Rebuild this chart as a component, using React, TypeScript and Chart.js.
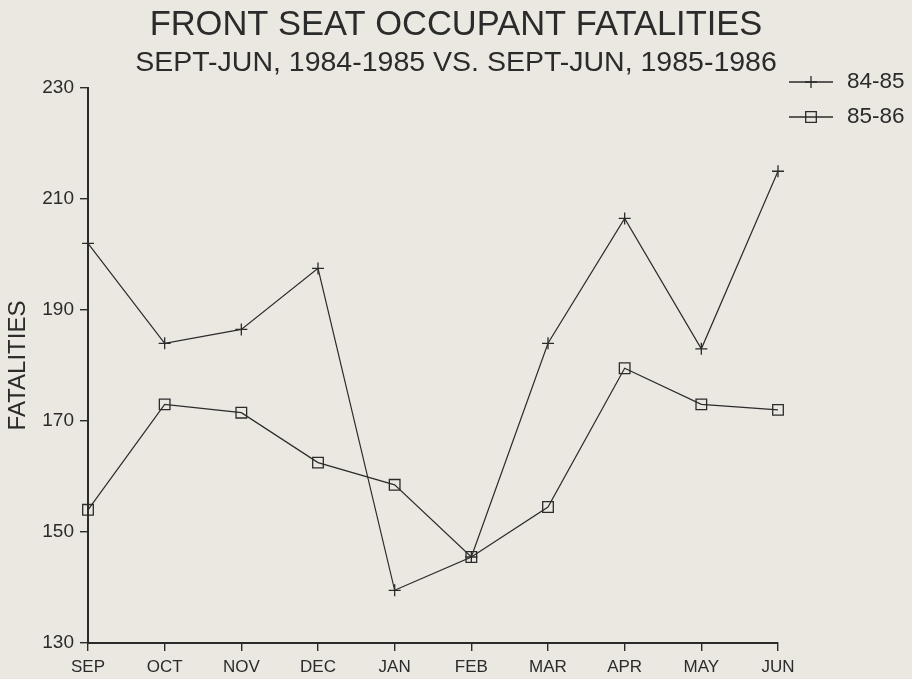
import { useEffect, useRef } from "react";
import { Chart, registerables } from "chart.js";

Chart.register(...registerables);

const months = ["SEP", "OCT", "NOV", "DEC", "JAN", "FEB", "MAR", "APR", "MAY", "JUN"];
const fatal8485 = [202, 184, 186.5, 197.5, 139.5, 145.5, 184, 206.5, 183, 215];
const fatal8586 = [154, 173, 171.5, 162.5, 158.5, 145.5, 154.5, 179.5, 173, 172];
const yTicks = [130, 150, 170, 190, 210, 230];
const seriesLabels = ["84-85", "85-86"];
const titleText = "FRONT SEAT OCCUPANT FATALITIES";
const subtitleText = "SEPT-JUN, 1984-1985 VS. SEPT-JUN, 1985-1986";
const yAxisTitle = "FATALITIES";

const INK = "#2b2b2b";
const PAPER = "#eae8e0";
const FAMILY = '"Liberation Sans", Arial, sans-serif';

const paperPlugin = {
  id: "paper",
  beforeDraw(chart: any) {
    const { ctx, width, height } = chart;
    ctx.save();
    ctx.fillStyle = PAPER;
    ctx.fillRect(0, 0, width, height);
    ctx.restore();
  },
};

function drawMarker(ctx: CanvasRenderingContext2D, style: string, r: number, x: number, y: number) {
  ctx.beginPath();
  if (style === "cross") {
    ctx.moveTo(x - r, y);
    ctx.lineTo(x + r, y);
    ctx.moveTo(x, y - r);
    ctx.lineTo(x, y + r);
  } else {
    const s = r * Math.SQRT1_2;
    ctx.rect(x - s, y - s, 2 * s, 2 * s);
  }
  ctx.stroke();
}

const sideLegendPlugin = {
  id: "sideLegend",
  afterDraw(chart: any) {
    const { ctx, chartArea } = chart;
    const x0 = chartArea.right + 11;
    chart.data.datasets.forEach((ds: any, i: number) => {
      const y = chartArea.top - 6 + i * 35;
      ctx.save();
      ctx.strokeStyle = INK;
      ctx.lineWidth = 1.3;
      ctx.beginPath();
      ctx.moveTo(x0, y);
      ctx.lineTo(x0 + 44, y);
      ctx.stroke();
      drawMarker(ctx, ds.pointStyle, ds.pointRadius, x0 + 22, y);
      ctx.fillStyle = INK;
      ctx.font = `22.5px ${FAMILY}`;
      ctx.textBaseline = "middle";
      ctx.textAlign = "left";
      ctx.fillText(ds.label, x0 + 58, y);
      ctx.restore();
    });
  },
};

export default function App() {
  const canvasRef = useRef<HTMLCanvasElement | null>(null);

  useEffect(() => {
    if (!canvasRef.current) return;
    const axisGrid = {
      display: true,
      drawOnChartArea: false,
      drawTicks: true,
      tickLength: 8,
      color: INK,
      lineWidth: 1.4,
    };
    const axisBorder = { display: true, color: INK, width: 2 };
    const chart = new Chart(canvasRef.current, {
      type: "line",
      data: {
        labels: months,
        datasets: [
          {
            label: seriesLabels[0],
            data: fatal8485,
            borderColor: INK,
            borderWidth: 1.2,
            pointStyle: "cross",
            pointRadius: 6,
            pointBorderWidth: 1.3,
            pointBorderColor: INK,
            pointBackgroundColor: "transparent",
            tension: 0,
            clip: false as any,
          },
          {
            label: seriesLabels[1],
            data: fatal8586,
            borderColor: INK,
            borderWidth: 1.2,
            pointStyle: "rect",
            pointRadius: 7.5,
            pointBorderWidth: 1.3,
            pointBorderColor: INK,
            pointBackgroundColor: "transparent",
            tension: 0,
            clip: false as any,
          },
        ],
      },
      options: {
        responsive: false,
        animation: false,
        devicePixelRatio: 1,
        layout: { padding: { left: 0, right: 0, top: 0, bottom: 0 } },
        plugins: {
          legend: { display: false },
          tooltip: { enabled: false },
          title: {
            display: true,
            text: titleText,
            color: INK,
            font: { family: FAMILY, size: 34.5, weight: "normal", lineHeight: 1 },
            padding: { top: 8, bottom: 0 },
          },
          subtitle: {
            display: true,
            text: subtitleText,
            color: INK,
            font: { family: FAMILY, size: 28.5, weight: "normal", lineHeight: 1 },
            padding: { top: 6, bottom: 11 },
          },
        },
        scales: {
          x: {
            type: "category",
            offset: false,
            grid: axisGrid,
            border: axisBorder,
            ticks: {
              color: INK,
              font: { family: FAMILY, size: 17 },
              padding: 6,
              maxRotation: 0,
              autoSkip: false,
            },
            afterFit: (s: any) => {
              s.height = 36;
            },
          },
          y: {
            type: "linear",
            min: 130,
            max: 230,
            afterBuildTicks: (s: any) => {
              s.ticks = yTicks.map((v) => ({ value: v }));
            },
            grid: axisGrid,
            border: axisBorder,
            ticks: {
              color: INK,
              font: { family: FAMILY, size: 19 },
              padding: 6,
            },
            title: {
              display: true,
              text: yAxisTitle,
              color: INK,
              font: { family: FAMILY, size: 24, lineHeight: 1 },
              padding: { top: 6, bottom: 0 },
            },
            afterFit: (s: any) => {
              s.width = 88;
            },
          },
          legendSpace: {
            type: "linear",
            position: "right",
            display: true,
            grid: { display: false },
            border: { display: false },
            ticks: { display: false },
            afterFit: (s: any) => {
              s.width = 134;
            },
          },
        },
      },
      plugins: [paperPlugin, sideLegendPlugin],
    });
    return () => chart.destroy();
  }, []);

  return (
    <div style={{ position: "fixed", left: 0, top: 0, width: 912, height: 679 }}>
      <canvas ref={canvasRef} width={912} height={679} />
    </div>
  );
}
